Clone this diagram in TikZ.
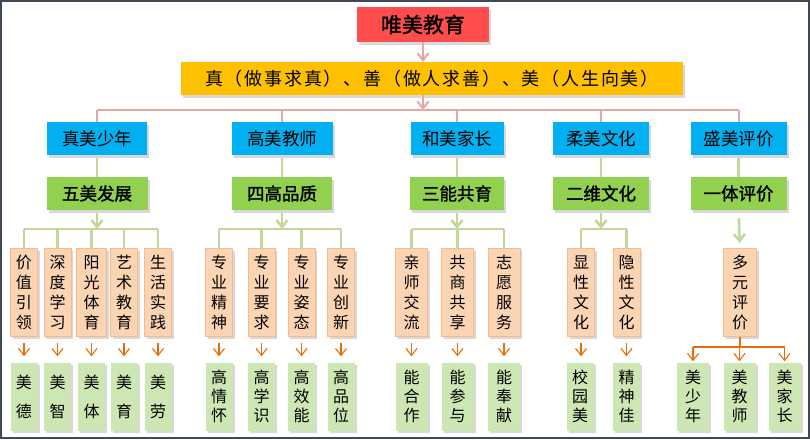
\documentclass[tikz,border=0pt]{standalone}
\usepackage{fontspec}
\setmainfont{Noto Sans CJK SC}
\newfontfamily\widecjk{Noto Sans CJK SC}[LetterSpace=10]
\newfontfamily\heavycjk{Noto Sans CJK SC}[FakeBold=1.6]
\usepackage{tikz}
\usetikzlibrary{arrows.meta,shadows}
\definecolor{redbox}{RGB}{255,77,77}
\definecolor{yellowbox}{RGB}{255,192,0}
\definecolor{bluebox}{RGB}{0,176,240}
\definecolor{greenbox}{RGB}{146,208,80}
\definecolor{peachfill}{RGB}{251,212,180}
\definecolor{peachline}{RGB}{249,185,138}
\definecolor{leaffill}{RGB}{204,230,180}
\definecolor{pinkline}{RGB}{228,166,166}
\definecolor{leafline}{RGB}{195,214,155}
\definecolor{orangeline}{RGB}{228,108,10}
\definecolor{framecol}{RGB}{64,72,88}

\begin{document}
\begin{tikzpicture}[x=1pt,y=-1pt,box/.style={shape=rectangle,inner sep=0pt,drop shadow={shadow xshift=2pt,shadow yshift=-2.5pt,opacity=0.3}},rootb/.style={box,fill=redbox,minimum width=132pt,minimum height=35pt,font=\heavycjk\fontsize{21}{24}\selectfont},ideab/.style={box,fill=yellowbox,minimum width=502pt,minimum height=33pt,font=\widecjk\fontsize{18}{22}\selectfont},partb/.style={box,fill=bluebox,minimum width=96pt,minimum height=33pt,font=\fontsize{17.5}{20}\selectfont},aimb/.style={box,fill=greenbox,minimum width=96pt,minimum height=33pt,font=\heavycjk\fontsize{17.5}{20}\selectfont},itemb/.style={box,fill=peachfill,draw=peachline,line width=1pt,minimum width=27pt,minimum height=88pt,align=center,font=\fontsize{16}{20}\selectfont},goalb/.style={box,fill=leaffill,minimum width=27pt,minimum height=68pt,align=center,font=\fontsize{16}{19}\selectfont},goalw/.style={goalb,font=\fontsize{16}{29}\selectfont},pinkln/.style={draw=pinkline,line width=2pt},greenln/.style={draw=leafline,line width=2.5pt},orangeln/.style={draw=orangeline,line width=1.1pt},pointer/.style={-{Straight Barb[length=7pt,width=11pt]}}]
\def\yb{138.5};
\def\yg{193.5};
\def\yp{292.5};
\def\yq{396.5};

\fill[white] (0,0) rectangle (810,439);
\useasboundingbox (0,0) rectangle (810,439);
\draw[framecol,line width=2pt] (1,1) rectangle (809,438);

\node[rootb] (T) at (423,24.5) {唯美教育};
\node[ideab] (V) at (432,78.5) {真（做事求真）、善（做人求善）、美（人生向美）};

\node[partb,minimum width=100pt] (B1) at (97,\yb) {真美少年};
\node[partb,minimum width=101pt] (B2) at (282,\yb) {高美教师};
\node[partb,minimum width=93pt] (B3) at (457,\yb) {和美家长};
\node[partb] (B4) at (601,\yb) {柔美文化};
\node[partb] (B5) at (738.5,\yb) {盛美评价};

\node[aimb,minimum width=101pt] (G1) at (97,\yg) {五美发展};
\node[aimb,minimum width=100pt] (G2) at (282,\yg) {四高品质};
\node[aimb,minimum width=94pt] (G3) at (457,\yg) {三能共育};
\node[aimb] (G4) at (601,\yg) {二维文化};
\node[aimb] (G5) at (738.5,\yg) {一体评价};

\coordinate (TB) at (423,110);
\coordinate (S) at (0,229);
\coordinate (O) at (0,347);

\draw[pinkln,pointer] (T.south) -- (T.south |- V.north);
\draw[pinkln,pointer] (T.south |- V.south) -- (TB);
\draw[pinkln] (B1.north |- TB) -- (B5.north |- TB);
\draw[pinkln] (B1.north |- TB) -- (B1.north);
\draw[pinkln] (B2.north |- TB) -- (B2.north);
\draw[pinkln] (B3.north |- TB) -- (B3.north);
\draw[pinkln] (B4.north |- TB) -- (B4.north);
\draw[pinkln] (B5.north |- TB) -- (B5.north);

\draw[greenln,shorten <=3pt] (B1.south) -- (G1.north);
\draw[greenln,shorten <=3pt] (B2.south) -- (G2.north);
\draw[greenln,shorten <=3pt] (B3.south) -- (G3.north);
\draw[greenln,shorten <=3pt] (B4.south) -- (G4.north);
\draw[greenln,shorten <=3pt] (B5.south) -- (G5.north);

\node[itemb] (P11) at (24,\yp) {价\\值\\引\\领};
\node[itemb] (P12) at (57.5,\yp) {深\\度\\学\\习};
\node[itemb,minimum width=30pt] (P13) at (91.5,\yp) {阳\\光\\体\\育};
\node[itemb] (P14) at (124,\yp) {艺\\术\\教\\育};
\node[itemb] (P15) at (158,\yp) {生\\活\\实\\践};
\node[goalw] (Q11) at (24,\yq) {美\\德};
\node[goalw] (Q12) at (57.5,\yq) {美\\智};
\node[goalw] (Q13) at (91.5,\yq) {美\\体};
\node[goalw] (Q14) at (124,\yq) {美\\育};
\node[goalw] (Q15) at (158,\yq) {美\\劳};

\node[itemb] (P21) at (219,\yp) {专\\业\\精\\神};
\node[itemb] (P22) at (261.5,\yp) {专\\业\\要\\求};
\node[itemb] (P23) at (301.5,\yp) {专\\业\\姿\\态};
\node[itemb] (P24) at (341,\yp) {专\\业\\创\\新};
\node[goalb] (Q21) at (219,\yq) {高\\情\\怀};
\node[goalb] (Q22) at (261.5,\yq) {高\\学\\识};
\node[goalb] (Q23) at (301.5,\yq) {高\\效\\能};
\node[goalb] (Q24) at (341,\yq) {高\\品\\位};

\node[itemb,minimum width=32pt] (P31) at (411.5,\yp) {亲\\师\\交\\流};
\node[itemb,minimum width=32pt] (P32) at (457.5,\yp) {共\\商\\共\\享};
\node[itemb,minimum width=32pt] (P33) at (504,\yp) {志\\愿\\服\\务};
\node[goalb,minimum width=32pt] (Q31) at (411.5,\yq) {能\\合\\作};
\node[goalb,minimum width=32pt] (Q32) at (457.5,\yq) {能\\参\\与};
\node[goalb,minimum width=32pt] (Q33) at (504,\yq) {能\\奉\\献};

\node[itemb] (P41) at (581,\yp) {显\\性\\文\\化};
\node[itemb] (P42) at (626.5,\yp) {隐\\性\\文\\化};
\node[goalb] (Q41) at (580,\yq) {校\\园\\美};
\node[goalb] (Q42) at (626.5,\yq) {精\\神\\佳};

\node[itemb,minimum width=33pt] (P5) at (740,\yp) {多\\元\\评\\价};
\node[goalb,minimum width=32pt] (Q51) at (693,\yq) {美\\少\\年};
\node[goalb,minimum width=32pt] (Q52) at (739.5,\yq) {美\\教\\师};
\node[goalb,minimum width=32pt] (Q53) at (784.5,\yq) {美\\家\\长};

\draw[greenln,pointer,shorten <=3pt] (G1.south) -- (G1.south |- S);
\draw[greenln] (P11.north |- S) -- (P15.north |- S);
\draw[greenln] (P11.north |- S) -- (P11.north);
\draw[greenln] (P12.north |- S) -- (P12.north);
\draw[greenln] (P13.north |- S) -- (P13.north);
\draw[greenln] (P14.north |- S) -- (P14.north);
\draw[greenln] (P15.north |- S) -- (P15.north);

\draw[greenln,pointer,shorten <=3pt] (G2.south) -- (G2.south |- S);
\draw[greenln] (P21.north |- S) -- (P24.north |- S);
\draw[greenln] (P21.north |- S) -- (P21.north);
\draw[greenln] (P22.north |- S) -- (P22.north);
\draw[greenln] (P23.north |- S) -- (P23.north);
\draw[greenln] (P24.north |- S) -- (P24.north);

\draw[greenln,pointer,shorten <=3pt] (G3.south) -- (G3.south |- S);
\draw[greenln] (P31.north |- S) -- (P33.north |- S);
\draw[greenln] (P31.north |- S) -- (P31.north);
\draw[greenln] (P32.north |- S) -- (P32.north);
\draw[greenln] (P33.north |- S) -- (P33.north);

\draw[greenln,pointer,shorten <=3pt] (G4.south) -- (G4.south |- S);
\draw[greenln] (P41.north |- S) -- (P42.north |- S);
\draw[greenln] (P41.north |- S) -- (P41.north);
\draw[greenln] (P42.north |- S) -- (P42.north);

\draw[greenln,pointer,shorten <=8pt,shorten >=5pt] (G5.south) -- (P5.north);

\draw[orangeln,pointer,shorten <=6pt,shorten >=6pt] (P11.south) -- (Q11.north);
\draw[orangeln,pointer,shorten <=6pt,shorten >=6pt] (P12.south) -- (Q12.north);
\draw[orangeln,pointer,shorten <=6pt,shorten >=6pt] (P13.south) -- (Q13.north);
\draw[orangeln,pointer,shorten <=6pt,shorten >=6pt] (P14.south) -- (Q14.north);
\draw[orangeln,pointer,shorten <=6pt,shorten >=6pt] (P15.south) -- (Q15.north);
\draw[orangeln,pointer,shorten <=6pt,shorten >=6pt] (P21.south) -- (Q21.north);
\draw[orangeln,pointer,shorten <=6pt,shorten >=6pt] (P22.south) -- (Q22.north);
\draw[orangeln,pointer,shorten <=6pt,shorten >=6pt] (P23.south) -- (Q23.north);
\draw[orangeln,pointer,shorten <=6pt,shorten >=6pt] (P24.south) -- (Q24.north);
\draw[orangeln,pointer,shorten <=6pt,shorten >=6pt] (P31.south) -- (Q31.north);
\draw[orangeln,pointer,shorten <=6pt,shorten >=6pt] (P32.south) -- (Q32.north);
\draw[orangeln,pointer,shorten <=6pt,shorten >=6pt] (P33.south) -- (Q33.north);
\draw[orangeln,pointer,shorten <=6pt,shorten >=6pt] (P41.south) -- (P41.south |- Q41.north);
\draw[orangeln,pointer,shorten <=6pt,shorten >=6pt] (P42.south) -- (Q42.north);

\draw[orangeln] (P5.south) -- (P5.south |- O);
\draw[orangeln] (Q51.north |- O) -- (Q53.north |- O);
\draw[orangeln,pointer,shorten >=1pt] (Q51.north |- O) -- (Q51.north);
\draw[orangeln,pointer,shorten >=1pt] (Q52.north |- O) -- (Q52.north);
\draw[orangeln,pointer,shorten >=1pt] (Q53.north |- O) -- (Q53.north);

\end{tikzpicture}
\end{document}
